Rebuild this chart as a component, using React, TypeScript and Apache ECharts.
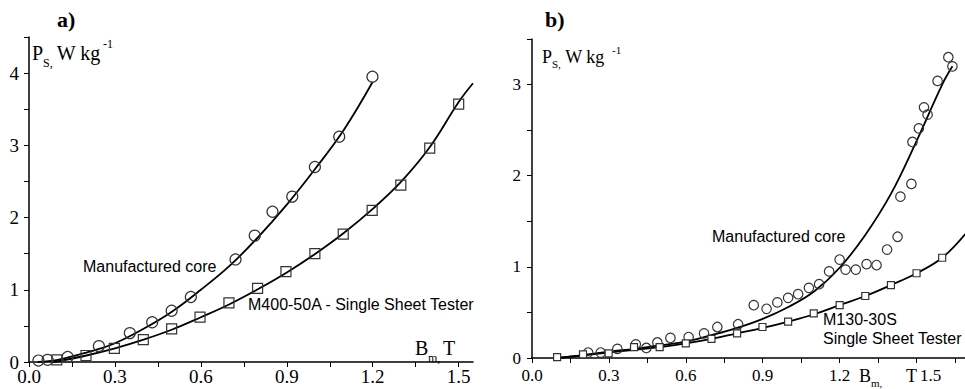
import React, { useEffect, useRef } from "react";
import * as echarts from "echarts";

// ---------- Panel a) ----------
const aCoreB = [0.033, 0.065, 0.135, 0.244, 0.352, 0.43, 0.498, 0.565, 0.721, 0.788, 0.85, 0.919, 0.998, 1.083, 1.199];
const aCoreP = [0.02, 0.03, 0.07, 0.22, 0.4, 0.55, 0.71, 0.9, 1.42, 1.75, 2.08, 2.29, 2.7, 3.12, 3.95];
const aSstB = [0.097, 0.199, 0.298, 0.399, 0.498, 0.597, 0.698, 0.798, 0.897, 0.998, 1.097, 1.198, 1.298, 1.399, 1.5];
const aSstP = [0.03, 0.09, 0.19, 0.31, 0.46, 0.62, 0.82, 1.02, 1.25, 1.5, 1.77, 2.1, 2.45, 2.96, 3.57];
const aCoreFitB = [0.03, 0.1, 0.2, 0.3, 0.4, 0.5, 0.6, 0.7, 0.8, 0.9, 1.0, 1.1, 1.2];
const aCoreFitP = [0.0, 0.03, 0.13, 0.26, 0.46, 0.7, 1.0, 1.33, 1.73, 2.18, 2.68, 3.22, 3.88];
const aSstFitB = [0.08, 0.1, 0.2, 0.3, 0.4, 0.5, 0.6, 0.7, 0.8, 0.9, 1.0, 1.1, 1.2, 1.3, 1.4, 1.5, 1.55];
const aSstFitP = [0.0, 0.01, 0.09, 0.19, 0.31, 0.45, 0.62, 0.8, 1.01, 1.24, 1.5, 1.79, 2.12, 2.5, 2.98, 3.6, 3.86];
const aXLabels = [0, 0.3, 0.6, 0.9, 1.2, 1.5];
const aXTicks = [0, 0.15, 0.3, 0.45, 0.6, 0.75, 0.9, 1.05, 1.2, 1.35, 1.5];
const aYLabels = [0, 1, 2, 3, 4];
const aYTicks = [0, 0.5, 1, 1.5, 2, 2.5, 3, 3.5, 4, 4.5];

// ---------- Panel b) ----------
const bCoreB = [0.219, 0.268, 0.333, 0.405, 0.446, 0.489, 0.54, 0.611, 0.671, 0.723, 0.804, 0.865, 0.915, 0.957, 0.999, 1.038, 1.08, 1.12, 1.159, 1.2, 1.223, 1.263, 1.305, 1.344, 1.385, 1.426, 1.437, 1.48, 1.484, 1.509, 1.529, 1.543, 1.582, 1.624, 1.64];
const bCoreP = [0.06, 0.06, 0.1, 0.15, 0.11, 0.17, 0.22, 0.23, 0.27, 0.34, 0.37, 0.58, 0.54, 0.61, 0.66, 0.7, 0.77, 0.81, 0.95, 1.08, 0.97, 0.97, 1.03, 1.02, 1.19, 1.33, 1.77, 1.91, 2.37, 2.52, 2.75, 2.67, 3.04, 3.3, 3.2];
const bSstB = [0.098, 0.199, 0.299, 0.398, 0.498, 0.6, 0.7, 0.8, 0.899, 0.999, 1.099, 1.2, 1.3, 1.4, 1.5, 1.6];
const bSstP = [0.01, 0.04, 0.05, 0.12, 0.12, 0.16, 0.21, 0.27, 0.34, 0.4, 0.49, 0.58, 0.68, 0.8, 0.93, 1.1];
const bCoreFitB = [0.1, 0.2, 0.3, 0.4, 0.5, 0.6, 0.7, 0.8, 0.9, 1.0, 1.1, 1.2, 1.3, 1.4, 1.5, 1.6, 1.64];
const bCoreFitP = [0.0, 0.03, 0.07, 0.1, 0.14, 0.18, 0.25, 0.33, 0.43, 0.56, 0.73, 0.99, 1.35, 1.8, 2.38, 3.0, 3.2];
const bSstFitB = [0.1, 0.2, 0.3, 0.4, 0.5, 0.6, 0.7, 0.8, 0.9, 1.0, 1.1, 1.2, 1.3, 1.4, 1.5, 1.6, 1.69];
const bSstFitP = [0.0, 0.03, 0.06, 0.09, 0.12, 0.16, 0.21, 0.27, 0.33, 0.4, 0.48, 0.58, 0.68, 0.8, 0.93, 1.1, 1.36];
const bXLabels = [0, 0.3, 0.6, 0.9, 1.2, 1.5];
const bXTicks = [0, 0.15, 0.3, 0.45, 0.6, 0.75, 0.9, 1.05, 1.2, 1.35, 1.5, 1.65];
const bYLabels = [0, 1, 2, 3];
const bYTicks = [0, 0.5, 1, 1.5, 2, 2.5, 3, 3.5];

const SERIF = "'Liberation Serif', 'Times New Roman', serif";
const SANS = "'Liberation Sans', Arial, sans-serif";

const zip = (xs: number[], ys: number[]) => xs.map((x, i) => [x, ys[i]]);

function txt(x: number, y: number, text: string, size: number, family: string, weight = "normal") {
  return {
    type: "text",
    x,
    y,
    style: {
      text,
      fill: "#000",
      fontFamily: family,
      fontSize: size,
      fontWeight: weight,
      textAlign: "left",
      textVerticalAlign: "top",
    },
  };
}

export default function App() {
  const ref = useRef<HTMLDivElement>(null);
  useEffect(() => {
    if (!ref.current) return;
    const chart = echarts.init(ref.current, null, { renderer: "svg" });
    const axisLineStyle = { color: "#000", width: 1.5 };
    const mkX = (idx: number, max: number, labels: number[], ticks: number[], size: number, margin: number, shifted: boolean) => ({
      type: "value",
      gridIndex: idx,
      min: 0,
      max,
      splitLine: { show: false },
      axisLine: { show: true, onZero: false, lineStyle: axisLineStyle },
      axisTick: { show: true, length: 5, customValues: ticks, lineStyle: { color: "#000", width: 1 } },
      axisLabel: {
        customValues: labels,
        color: "#000",
        fontFamily: SERIF,
        fontSize: size,
        margin,
        formatter: (v: number) => (shifted && Math.abs(v - 1.5) < 1e-6 ? "{s|1.5}" : v.toFixed(1)),
        rich: { s: { fontFamily: SERIF, fontSize: size, color: "#000", padding: [0, 0, 0, 28] } },
      },
    });
    const mkY = (idx: number, max: number, labels: number[], ticks: number[], size: number, margin: number) => ({
      type: "value",
      gridIndex: idx,
      min: 0,
      max,
      splitLine: { show: false },
      axisLine: { show: true, onZero: false, lineStyle: axisLineStyle },
      axisTick: { show: true, length: 5, customValues: ticks, lineStyle: { color: "#000", width: 1 } },
      axisLabel: {
        customValues: labels,
        color: "#000",
        fontFamily: SERIF,
        fontSize: size,
        margin,
        formatter: (v: number) => String(Math.round(v)),
      },
    });
    const lineS = (xi: number, data: number[][]) => ({
      type: "line",
      xAxisIndex: xi,
      yAxisIndex: xi,
      data,
      smooth: 0.4,
      showSymbol: false,
      symbol: "none",
      lineStyle: { color: "#000", width: 1.8 },
      z: 2,
    });
    const scat = (xi: number, data: number[][], symbol: string, size: number, fill: string) => ({
      type: "scatter",
      xAxisIndex: xi,
      yAxisIndex: xi,
      data,
      symbol,
      symbolSize: size,
      itemStyle: { color: fill, borderColor: "#333", borderWidth: 1.2, opacity: 1 },
      z: 3,
    });
    chart.setOption({
      animation: false,
      grid: [
        { left: 29, top: 37, width: 444, height: 325 },
        { left: 532, top: 39, width: 433, height: 319 },
      ],
      xAxis: [mkX(0, 1.55, aXLabels, aXTicks, 19, 5, false), mkX(1, 1.689, bXLabels, bXTicks, 17, 9, true)],
      yAxis: [mkY(0, 4.5, aYLabels, aYTicks, 19, 10), mkY(1, 3.5, bYLabels, bYTicks, 17, 11)],
      series: [
        lineS(0, zip(aCoreFitB, aCoreFitP)),
        lineS(0, zip(aSstFitB, aSstFitP)),
        scat(0, zip(aCoreB, aCoreP), "circle", 11, "rgba(0,0,0,0)"),
        scat(0, zip(aSstB, aSstP), "rect", 10, "rgba(0,0,0,0)"),
        lineS(1, zip(bCoreFitB, bCoreFitP)),
        lineS(1, zip(bSstFitB, bSstFitP)),
        scat(1, zip(bCoreB, bCoreP), "circle", 9.5, "rgba(0,0,0,0)"),
        scat(1, zip(bSstB, bSstP), "rect", 7, "#fff"),
      ],
      graphic: [
        txt(57, 8, "a)", 22, SERIF, "bold"),
        txt(545, 8, "b)", 22, SERIF, "bold"),
        // panel a axis titles
        txt(32, 43, "P", 20, SERIF),
        txt(43, 57, "S,", 12, SERIF),
        txt(52, 43, " W kg", 20, SERIF),
        txt(103, 38, "-1", 12, SERIF),
        txt(415, 338, "B", 20, SERIF),
        txt(428, 352, "m,", 12, SERIF),
        txt(443, 338, "T", 20, SERIF),
        // panel b axis titles
        txt(542, 48, "P", 18, SERIF),
        txt(552, 58, "S,", 11, SERIF),
        txt(561, 48, " W kg", 18, SERIF),
        txt(612, 44, "-1", 11, SERIF),
        txt(859, 367, "B", 18, SERIF),
        txt(871, 377, "m,", 11, SERIF),
        txt(906, 367, "T", 18, SERIF),
        // annotations
        txt(83, 258, "Manufactured core", 16, SANS),
        txt(248, 296, "M400-50A - Single Sheet Tester", 16, SANS),
        txt(712, 228, "Manufactured core", 16, SANS),
        txt(823, 311, "M130-30S", 16, SANS),
        txt(823, 330, "Single Sheet Tester", 16, SANS),
      ],
    });
    return () => chart.dispose();
  }, []);
  return (
    <div
      ref={ref}
      style={{ position: "fixed", left: 0, top: 0, width: 965, height: 389, background: "#fff" }}
    />
  );
}
